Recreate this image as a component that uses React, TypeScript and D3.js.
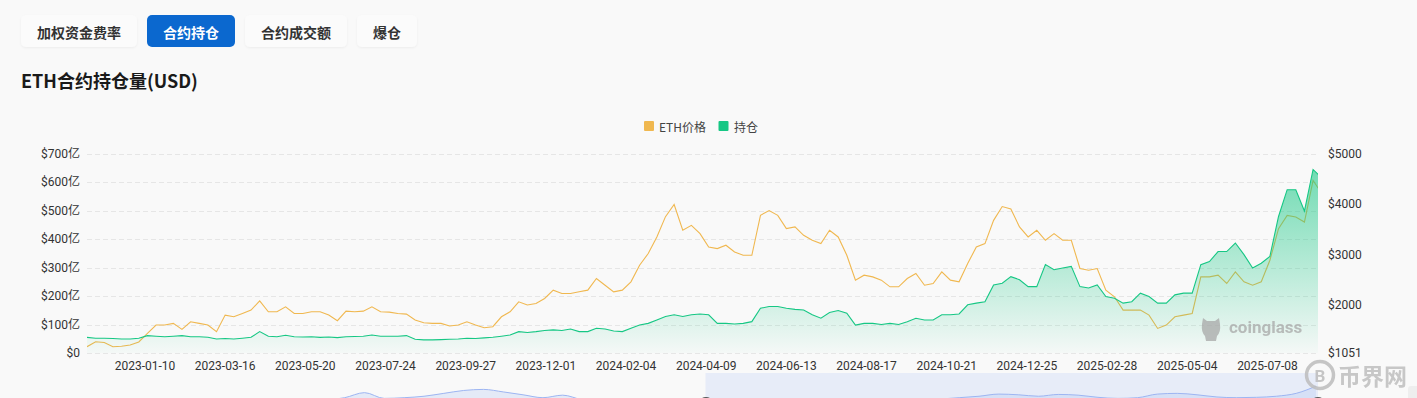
import React from 'react';
import * as d3 from 'd3';

// ETH price (USD), weekly from 2022-11-24
const ethPrice = [
  1175, 1274, 1260, 1175, 1185, 1210, 1270, 1440, 1604, 1604,
  1637, 1519, 1670, 1637, 1604, 1472, 1801, 1768, 1834, 1900,
  2083, 1867, 1867, 1965, 1834, 1834, 1867, 1867, 1801, 1690,
  1880, 1867, 1880, 1965, 1867, 1860, 1834, 1820, 1703, 1650,
  1637, 1637, 1585, 1604, 1670, 1604, 1552, 1571, 1768, 1867,
  2064, 2000, 2030, 2130, 2295, 2230, 2230, 2262, 2295, 2526,
  2393, 2262, 2295, 2460, 2788, 3020, 3348, 3750, 3990, 3480,
  3578, 3414, 3150, 3118, 3184, 3052, 2986, 2986, 3776, 3870,
  3776, 3513, 3546, 3381, 3282, 3216, 3480, 3348, 2986, 2493,
  2591, 2558, 2493, 2361, 2361, 2526, 2624, 2393, 2426, 2657,
  2493, 2460, 2822, 3150, 3216, 3677, 3950, 3900, 3546, 3348,
  3480, 3282, 3414, 3282, 3282, 2723, 2690, 2723, 2295, 2163,
  1900, 1900, 1900, 1801, 1537, 1604, 1768, 1801, 1834, 2558,
  2558, 2591, 2427, 2657, 2460, 2393, 2460, 2887, 3513, 3776,
  3744, 3643, 4466, 4210,
];

// open interest (亿 USD), weekly from 2022-11-24
const openInterest = [
  55, 52, 52, 51, 49, 49, 52, 61, 59, 57,
  59, 61, 57, 57, 55, 49, 51, 49, 52, 55,
  75, 59, 57, 62, 57, 56, 57, 55, 56, 54,
  57, 58, 59, 63, 59, 59, 59, 61, 48, 46,
  46, 47, 48, 49, 52, 51, 53, 55, 59, 63,
  75, 72, 75, 79, 81, 79, 84, 75, 75, 87,
  84, 77, 75, 87, 98, 104, 116, 128, 134, 128,
  134, 137, 134, 104, 104, 102, 104, 110, 157, 163,
  163, 157, 153, 151, 134, 122, 142, 149, 140, 98,
  104, 104, 100, 104, 100, 110, 122, 116, 116, 134,
  134, 137, 169, 175, 180, 239, 245, 268, 257, 233,
  233, 310, 292, 298, 304, 233, 228, 239, 198, 192,
  175, 180, 210, 198, 175, 175, 204, 210, 210, 310,
  321, 356, 356, 386, 345, 298, 315, 339, 479, 573,
  573, 498, 644, 615,
];

// full-history thumbnail for the range slider
const miniValues = [
  30, 32, 34, 33, 36, 38, 37, 40, 42, 45, 48, 52, 55, 62, 76, 60,
  62, 66, 74, 82, 85, 78, 70, 62, 69, 56, 52, 50, 48, 46, 47, 45,
  48, 46, 44, 43, 45, 44, 47, 48, 50, 52, 55, 58, 62, 66, 72, 70,
  66, 71, 69, 63, 60, 62, 72, 74, 70, 64, 62, 63, 66, 74, 94,
];

const xLabels = [
  '2023-01-10', '2023-03-16', '2023-05-20', '2023-07-24', '2023-09-27',
  '2023-12-01', '2024-02-04', '2024-04-09', '2024-06-13', '2024-08-17',
  '2024-10-21', '2024-12-25', '2025-02-28', '2025-05-04', '2025-07-08',
];
const leftTicks = [0, 100, 200, 300, 400, 500, 600, 700];
const rightTicks = [1051, 2000, 3000, 4000, 5000];
const tabs = ['加权资金费率', '合约持仓', '合约成交额', '爆仓'];
const activeTab = 1;

const startDate = new Date(2022, 10, 24);
const dates = ethPrice.map((_, i) => d3.timeDay.offset(startDate, i * 7));

const W = 1417;
const H = 398;
const left = 87;
const right = 1318;
const top = 153.5;
const bottom = 353;

const priceColor = '#f0b850';
const oiColor = '#16c784';
const cjk = '"Noto Sans CJK SC", "Noto Sans", sans-serif';
const num = 'Roboto, "Noto Sans CJK SC", sans-serif';

export default function App() {
  const x = d3.scaleTime()
    .domain([startDate, d3.timeDay.offset(startDate, 998)])
    .range([left, right]);
  const yL = d3.scaleLinear().domain([0, 700]).range([bottom, top]);
  const yR = d3.scaleLinear().domain([1051, 5000]).range([bottom, top]);
  const parse = d3.timeParse('%Y-%m-%d');

  const priceLine = d3.line<number>()
    .x((_, i) => x(dates[i]))
    .y(d => yR(d));
  const oiLine = d3.line<number>()
    .x((_, i) => x(dates[i]))
    .y(d => yL(d));
  const oiArea = d3.area<number>()
    .x((_, i) => x(dates[i]))
    .y0(bottom)
    .y1(d => yL(d));

  const xm = d3.scaleLinear().domain([0, miniValues.length - 1]).range([left, right - 2]);
  const ym = d3.scaleLinear().domain([0, 100]).range([420, 384]);
  const miniLine = d3.line<number>().x((_, i) => xm(i)).y(d => ym(d)).curve(d3.curveMonotoneX);
  const miniArea = d3.area<number>().x((_, i) => xm(i)).y0(420).y1(d => ym(d)).curve(d3.curveMonotoneX);

  // tab layout
  let tx = 21;
  const tabBoxes = tabs.map(t => {
    const w = t.length * 14 + 32;
    const b = { t, x: tx, w };
    tx += w + 10;
    return b;
  });

  return (
    <div style={{ position: 'fixed', left: 0, top: 0, width: W, height: H, background: '#f9f9f9' }}>
      <svg width={W} height={H} style={{ display: 'block' }}>
        <defs>
          <linearGradient id="oiFill" x1="0" y1="0" x2="0" y2="1">
            <stop offset="0%" stopColor={oiColor} stopOpacity={0.6} />
            <stop offset="100%" stopColor={oiColor} stopOpacity={0.02} />
          </linearGradient>
          <clipPath id="plotClip">
            <rect x={left} y={0} width={right - left} height={H} />
          </clipPath>
          <filter id="tabShadow" x="-10%" y="-20%" width="120%" height="160%">
            <feDropShadow dx="0" dy="1" stdDeviation="1" floodColor="#000" floodOpacity="0.05" />
          </filter>
        </defs>

        {/* tabs */}
        {tabBoxes.map((b, i) => (
          <g key={b.t}>
            <rect x={b.x} y={15} width={b.w} height={32} rx={5}
              fill={i === activeTab ? '#0b68cf' : '#fbfbfb'}
              filter={i === activeTab ? undefined : 'url(#tabShadow)'} />
            <text x={b.x + b.w / 2} y={31.5} textAnchor="middle" dominantBaseline="central"
              fontFamily={cjk} fontSize={14} fontWeight={700}
              fill={i === activeTab ? '#fff' : '#333'}>{b.t}</text>
          </g>
        ))}

        <text x={21} y={88} fontFamily={cjk} fontSize={18} fontWeight={700} fill="#1a1a1a">ETH合约持仓量(USD)</text>

        {/* legend */}
        <rect x={644} y={121} width={10} height={10} rx={1} fill={priceColor} />
        <text x={659} y={126.5} dominantBaseline="central" fontFamily={cjk} fontSize={12} fill="#444">ETH价格</text>
        <rect x={718.5} y={121} width={10} height={10} rx={1} fill={oiColor} />
        <text x={734} y={126.5} dominantBaseline="central" fontFamily={cjk} fontSize={12} fill="#444">持仓</text>

        {/* grid */}
        {leftTicks.map(t => (
          <line key={t} x1={left} x2={right} y1={Math.round(yL(t)) + 0.5} y2={Math.round(yL(t)) + 0.5}
            stroke="#e6e6e6" strokeDasharray="5 3" />
        ))}

        {/* axes labels */}
        {leftTicks.map(t => (
          <text key={t} x={80} y={yL(t)} textAnchor="end" dominantBaseline="central"
            fontFamily={num} fontSize={12} fill="#333">{t === 0 ? '$0' : `$${t}亿`}</text>
        ))}
        {rightTicks.map(t => (
          <text key={t} x={1328} y={yR(t)} dominantBaseline="central"
            fontFamily={num} fontSize={12} fill="#333">{`$${t}`}</text>
        ))}
        {xLabels.map(l => (
          <text key={l} x={x(parse(l) as Date)} y={366} textAnchor="middle" dominantBaseline="central"
            fontFamily={num} fontSize={12} fill="#333">{l}</text>
        ))}

        {/* series */}
        <g clipPath="url(#plotClip)">
          <path d={priceLine(ethPrice) || ''} fill="none" stroke={priceColor} strokeWidth={1.1} />
          <path d={oiArea(openInterest) || ''} fill="url(#oiFill)" />
          <path d={oiLine(openInterest) || ''} fill="none" stroke={oiColor} strokeWidth={1.1} />
        </g>

        {/* coinglass watermark */}
        <g fill="#a8a8a8" opacity={0.75}>
          <path d="M1203,318 l4,3 h8 l4,-3 l1,6 q1,8 -3,12 l-1,5 h-10 l-1,-5 q-4,-4 -3,-12 z" />
          <text x={1229} y={333} fontFamily="Roboto, sans-serif" fontSize={17} fontWeight={700}>coinglass</text>
        </g>

        {/* range slider */}
        <rect x={705.5} y={373} width={right - 705.5} height={30} fill="#e7ecf8" />
        <path d={miniArea(miniValues) || ''} fill="#9db5f2" fillOpacity={0.22} />
        <path d={miniLine(miniValues) || ''} fill="none" stroke="#9db5f2" strokeWidth={1} />
        <circle cx={706} cy={405} r={8} fill="#555" />
        <circle cx={1318} cy={405} r={8} fill="#555" />
        <rect x={1408} y={386} width={14} height={20} rx={3} fill="#eee" />

        {/* site watermark */}
        <g opacity={0.85}>
          <circle cx={1320} cy={375} r={13.5} fill="none" stroke="#bdbdbd" strokeWidth={3.5} />
          <text x={1320} y={376} textAnchor="middle" dominantBaseline="central" fontFamily="Roboto, sans-serif"
            fontSize={17} fontWeight={700} fill="#bdbdbd">B</text>
          <text x={1338} y={375} dominantBaseline="central" fontFamily={cjk} fontSize={23} fontWeight={700}
            fill="#bfbfbf">币界网</text>
        </g>
      </svg>
    </div>
  );
}
